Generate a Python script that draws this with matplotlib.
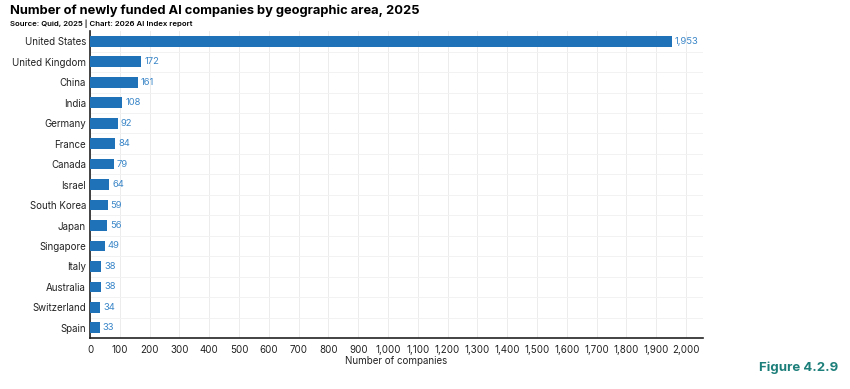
import matplotlib.pyplot as plt
from matplotlib.ticker import FuncFormatter

# Data
countries = ['United States', 'United Kingdom', 'China', 'India', 'Germany', 'France',
             'Canada', 'Israel', 'South Korea', 'Japan', 'Singapore', 'Italy',
             'Australia', 'Switzerland', 'Spain']
counts = [1953, 172, 161, 108, 92, 84, 79, 64, 59, 56, 49, 38, 38, 34, 33]

plt.rcParams['font.family'] = ['Inter', 'DejaVu Sans']

bar_color = '#1f72b8'
label_color = '#3a86c8'

fig = plt.figure(figsize=(8.5, 3.89), dpi=100)
ax = fig.add_axes([0.106, 0.131, 0.721, 0.789])

y = list(range(len(countries)))
ax.barh(y, counts, height=0.52, color=bar_color, zorder=3)
for yi, v in zip(y, counts):
    ax.text(v + 10, yi, f'{v:,}', va='center', ha='left', fontsize=6.8, color=label_color)

ax.set_yticks(y)
ax.set_yticklabels(countries, fontsize=7, color='#222222')
ax.set_yticks([i + 0.5 for i in y[:-1]], minor=True)
ax.set_ylim(len(countries) - 0.5, -0.5)
ax.set_xlim(0, 2057)
ax.set_xticks(range(0, 2001, 100))
ax.xaxis.set_major_formatter(FuncFormatter(lambda v, p: f'{int(v):,}'))
ax.tick_params(axis='x', labelsize=7, length=0, pad=5, labelcolor='#222222')
ax.tick_params(axis='y', which='both', length=0, pad=3)
ax.set_xlabel('Number of companies', fontsize=7, labelpad=1, color='#222222')

ax.grid(True, axis='x', color='#ececec', linewidth=0.7, zorder=0)
ax.grid(True, axis='y', which='minor', color='#f2f2f2', linewidth=0.7, zorder=0)
for s in ['top', 'right']:
    ax.spines[s].set_visible(False)
ax.spines['left'].set_color('#222222')
ax.spines['bottom'].set_color('#222222')
ax.spines['left'].set_linewidth(1.2)
ax.spines['bottom'].set_linewidth(1.2)

fig.text(0.012, 0.972, 'Number of newly funded AI companies by geographic area, 2025',
         fontsize=9.3, fontweight='bold', ha='left', va='center')
fig.text(0.012, 0.938, 'Source: Quid, 2025 | Chart: 2026 AI Index report',
         fontsize=5.6, fontweight='semibold', ha='left', va='center')
fig.text(0.986, 0.055, 'Figure 4.2.9', fontsize=9.5, fontweight='bold',
         color='#1d7f7a', ha='right', va='center')

fig.savefig('out.png', dpi=100)
